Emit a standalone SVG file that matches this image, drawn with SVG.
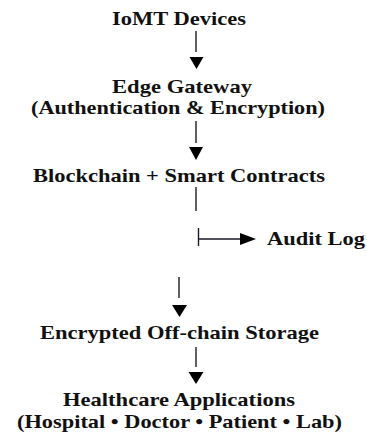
<svg xmlns="http://www.w3.org/2000/svg" width="367" height="435" viewBox="0 0 367 435">
<style>
.t{font-family:"Liberation Serif","Times New Roman",serif;font-weight:bold;font-size:19px;fill:#111}
.ln{stroke:#1a1a2a;stroke-width:1.4;fill:none}
.hd{fill:#000}
</style>
<rect width="367" height="435" fill="#fff"/>
<g id="n1"><text class="t" x="112" y="25" textLength="134" lengthAdjust="spacingAndGlyphs">IoMT Devices</text></g>
<g id="n2"><text class="t" x="112" y="93" textLength="140" lengthAdjust="spacingAndGlyphs">Edge Gateway</text>
<text class="t" x="31" y="114" textLength="294" lengthAdjust="spacingAndGlyphs">(Authentication &amp; Encryption)</text></g>
<g id="n3"><text class="t" x="33" y="182" textLength="292" lengthAdjust="spacingAndGlyphs">Blockchain + Smart Contracts</text></g>
<g id="n4"><text class="t" x="267" y="245" textLength="98" lengthAdjust="spacingAndGlyphs">Audit Log</text></g>
<g id="n5"><text class="t" x="40" y="339" textLength="279" lengthAdjust="spacingAndGlyphs">Encrypted Off-chain Storage</text></g>
<g id="n6"><text class="t" x="63" y="406" textLength="232" lengthAdjust="spacingAndGlyphs">Healthcare Applications</text>
<text class="t" x="17" y="428" textLength="325" lengthAdjust="spacingAndGlyphs">(Hospital • Doctor • Patient • Lab)</text></g>
<g id="connectors">
<line class="ln" x1="196" y1="31" x2="196" y2="52"/>
<polygon class="hd" points="189.5,57 203.5,57 196.5,69"/>
<line class="ln" x1="196" y1="121" x2="196" y2="143"/>
<polygon class="hd" points="189,147 203,147 196,160"/>
<line class="ln" x1="196" y1="187" x2="196" y2="211"/>
<line class="ln" x1="198.5" y1="228" x2="198.5" y2="246"/>
<line class="ln" x1="198.5" y1="239" x2="240" y2="239" stroke="#444"/>
<polygon class="hd" points="240,233 256,239 240,245"/>
<line class="ln" x1="179" y1="277" x2="179" y2="298"/>
<polygon class="hd" points="172,305 187,305 179.5,317"/>
<line class="ln" x1="196" y1="347" x2="196" y2="367"/>
<polygon class="hd" points="188.5,372 203.5,372 196,384"/>
</g>
</svg>
